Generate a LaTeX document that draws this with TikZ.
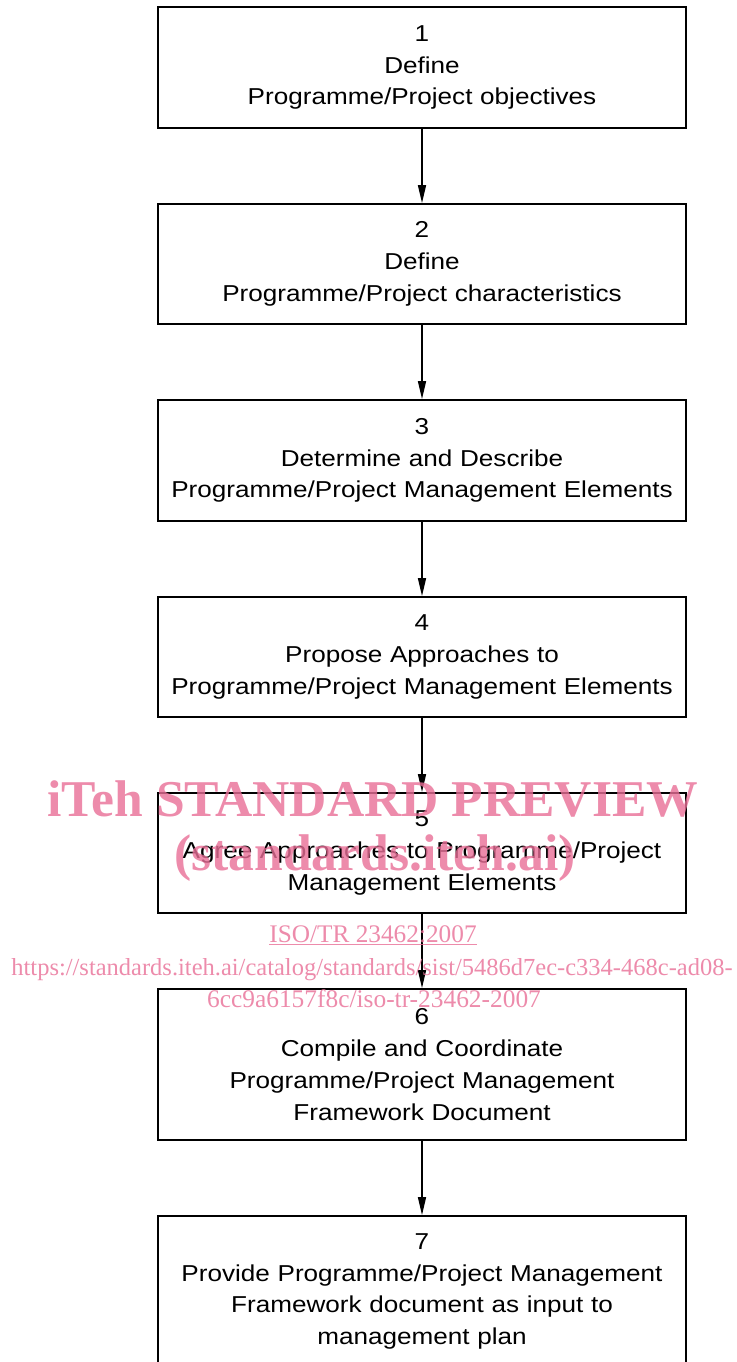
\documentclass[tikz,border=0pt]{standalone}
\usepackage{fontspec}
\setmainfont{Liberation Sans}
\newfontfamily\boxfont[FakeStretch=1.135]{Liberation Sans}
\newfontfamily\wmfont{Liberation Serif}
\usetikzlibrary{arrows.meta}
\definecolor{wmpink}{RGB}{232,110,150}
\tikzset{
  stepbox/.style={draw=black, line width=1.8pt, minimum width=528pt, inner sep=0pt,
    align=center, font=\boxfont\fontsize{23}{31.8}\selectfont, text width=520pt},
  flow/.style={line width=1.6pt, -{Triangle[length=18pt,width=8pt]}},
  wm/.style={text=wmpink, opacity=0.8, text opacity=0.8, inner sep=0pt}
}
\begin{document}
\begin{tikzpicture}[x=1pt,y=-1pt]
\useasboundingbox (0,0) rectangle (736,1362);
\clip (0,0) rectangle (736,1362);
\node[stepbox, minimum height=121pt] (b1) at (422,67.5) {1\\Define\\Programme/Project objectives};
\node[stepbox, minimum height=120pt] (b2) at (422,264) {2\\Define\\Programme/Project characteristics};
\node[stepbox, minimum height=121pt] (b3) at (422,460.5) {3\\Determine and Describe\\Programme/Project Management Elements};
\node[stepbox, minimum height=120pt] (b4) at (422,657) {4\\Propose Approaches to\\Programme/Project Management Elements};
\node[stepbox, minimum height=120pt] (b5) at (422,853) {5\\Agree Approaches to Programme/Project\\Management Elements};
\node[stepbox, minimum height=151pt] (b6) at (422,1064.5) {6\\Compile and Coordinate\\Programme/Project Management\\Framework Document};
\node[stepbox, minimum height=151pt] (b7) at (422,1291.5) {7\\Provide Programme/Project Management\\Framework document as input to\\management plan};
\draw[flow] (b1) -- (b2);
\draw[flow] (b2) -- (b3);
\draw[flow] (b3) -- (b4);
\draw[flow] (b4) -- (b5);
\draw[flow] (b5) -- (b6);
\draw[flow] (b6) -- (b7);
\node[wm, font=\wmfont\bfseries\fontsize{51.6}{60}\selectfont] (w1) at (373,799) {iTeh STANDARD PREVIEW};
\node[wm, font=\wmfont\bfseries\fontsize{51.6}{60}\selectfont] (w2) at (375,858) {(standards.iteh.ai)};
\node[wm, font=\wmfont\fontsize{25.3}{28}\selectfont] (w3) at (373,935) {\underline{ISO/TR 23462:2007}};
\node[wm, font=\wmfont\fontsize{24.5}{28}\selectfont] (w4) at (372,970) {https://standards.iteh.ai/catalog/standards/sist/5486d7ec-c334-468c-ad08-};
\node[wm, font=\wmfont\fontsize{25.4}{28}\selectfont] (w5) at (374,999) {6cc9a6157f8c/iso-tr-23462-2007};
\end{tikzpicture}
\end{document}
